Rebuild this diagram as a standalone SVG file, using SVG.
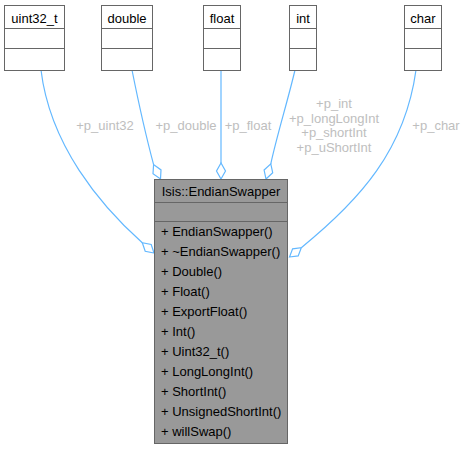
<svg xmlns="http://www.w3.org/2000/svg" width="464" height="449" viewBox="0 0 464 449">
<style>
text{font-family:"Liberation Sans",Arial,Helvetica,sans-serif;font-size:13px;fill:#000}
.box{fill:#fff;stroke:#666;stroke-width:1}
.main{fill:#999;stroke:#666;stroke-width:1}
.div{stroke:#666;stroke-width:1}
.edge{fill:none;stroke:#63b8ff;stroke-width:1.2}
.dia{fill:#fff;stroke:#63b8ff;stroke-width:1.2}
.lbl{fill:#bebebe;text-anchor:middle}
.c{text-anchor:middle}
</style>
<rect width="464" height="449" fill="#fff"/>
<g id="connectors">
<path class="edge" d="M41,70 C50,145 100,205 142.3,242.7"/>
<polygon class="dia" points="154,253 151.2,244.5 142.3,242.7 145.2,251.3"/>
<path class="edge" d="M132,70 C140,110 147,140 153.6,164.6"/>
<polygon class="dia" points="160.5,179 161,169.9 153.6,164.6 153,173.7"/>
<path class="edge" d="M221,70 L221,163"/>
<polygon class="dia" points="221,179 225.5,171 221,163 216.5,171"/>
<path class="edge" d="M295,70 C288,100 277,135 270.8,163.8"/>
<polygon class="dia" points="266,179 272.7,172.75 270.8,163.8 264.1,170.05"/>
<path class="edge" d="M416,70 C405,150 360,200 301.3,247.7"/>
<polygon class="dia" points="289.5,257 298.2,255.9 301.3,247.7 292.6,248.8"/>
<text class="lbl" x="105" y="130">+p_uint32</text>
<text class="lbl" x="186" y="130">+p_double</text>
<text class="lbl" x="248" y="130">+p_float</text>
<text class="lbl" x="334" y="108">+p_int</text>
<text class="lbl" x="334" y="122.7">+p_longLongInt</text>
<text class="lbl" x="334" y="137.3">+p_shortInt</text>
<text class="lbl" x="334" y="152">+p_uShortInt</text>
<text class="lbl" x="436" y="130">+p_char</text>
</g>
<g id="node-uint32_t">
<rect class="box" x="4.5" y="5.5" width="60" height="65"/>
<line class="div" x1="4.5" y1="28.5" x2="64.5" y2="28.5"/>
<line class="div" x1="4.5" y1="48.5" x2="64.5" y2="48.5"/>
<text class="c" x="34.5" y="23">uint32_t</text>
</g>
<g id="node-double">
<rect class="box" x="101.5" y="5.5" width="51" height="65"/>
<line class="div" x1="101.5" y1="28.5" x2="152.5" y2="28.5"/>
<line class="div" x1="101.5" y1="48.5" x2="152.5" y2="48.5"/>
<text class="c" x="127" y="23">double</text>
</g>
<g id="node-float">
<rect class="box" x="203.5" y="5.5" width="37" height="65"/>
<line class="div" x1="203.5" y1="28.5" x2="240.5" y2="28.5"/>
<line class="div" x1="203.5" y1="48.5" x2="240.5" y2="48.5"/>
<text class="c" x="222" y="23">float</text>
</g>
<g id="node-int">
<rect class="box" x="289.5" y="5.5" width="27" height="65"/>
<line class="div" x1="289.5" y1="28.5" x2="316.5" y2="28.5"/>
<line class="div" x1="289.5" y1="48.5" x2="316.5" y2="48.5"/>
<text class="c" x="303" y="23">int</text>
</g>
<g id="node-char">
<rect class="box" x="404.5" y="5.5" width="37" height="65"/>
<line class="div" x1="404.5" y1="28.5" x2="441.5" y2="28.5"/>
<line class="div" x1="404.5" y1="48.5" x2="441.5" y2="48.5"/>
<text class="c" x="423" y="23">char</text>
</g>
<g id="node-EndianSwapper">
<rect class="main" x="154.5" y="179.5" width="133" height="264"/>
<line class="div" x1="154.5" y1="202.5" x2="287.5" y2="202.5"/>
<line class="div" x1="154.5" y1="221.5" x2="287.5" y2="221.5"/>
<text class="c" x="221" y="196">Isis::EndianSwapper</text>
<text x="161" y="236">+ EndianSwapper()</text>
<text x="161" y="256">+ ~EndianSwapper()</text>
<text x="161" y="276">+ Double()</text>
<text x="161" y="296">+ Float()</text>
<text x="161" y="316">+ ExportFloat()</text>
<text x="161" y="336">+ Int()</text>
<text x="161" y="356">+ Uint32_t()</text>
<text x="161" y="376">+ LongLongInt()</text>
<text x="161" y="396">+ ShortInt()</text>
<text x="161" y="416">+ UnsignedShortInt()</text>
<text x="161" y="436">+ willSwap()</text>
</g>
</svg>
